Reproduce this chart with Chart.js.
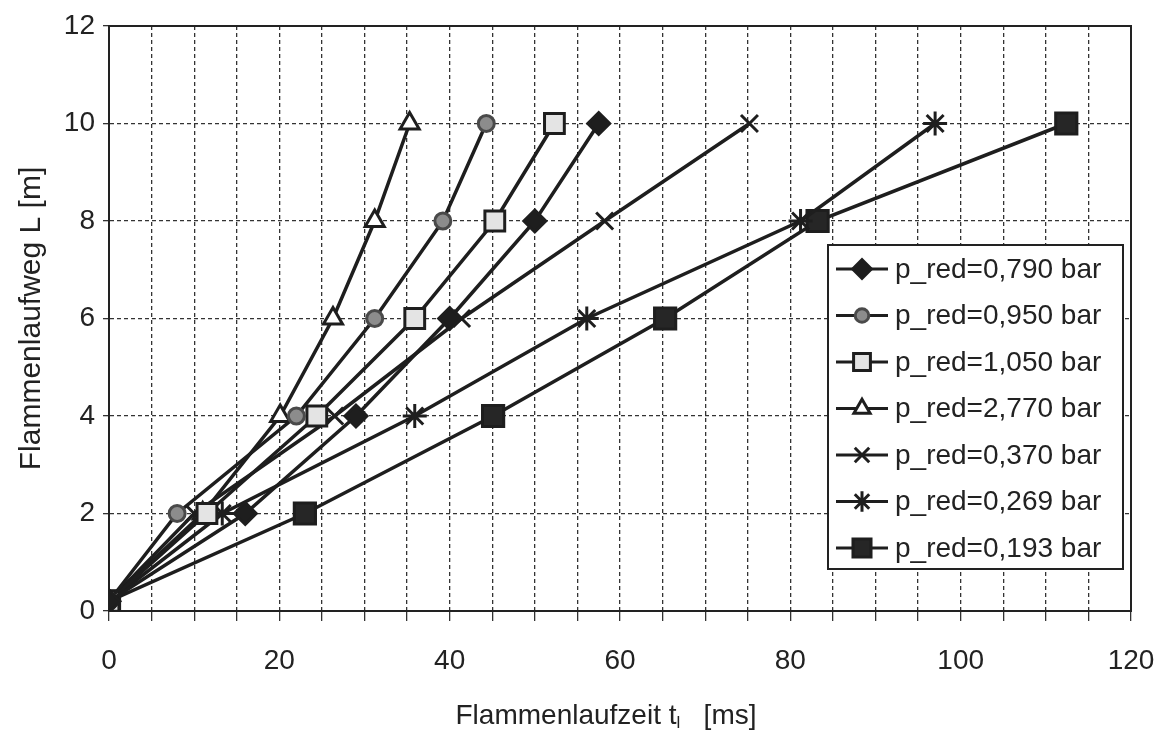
<!DOCTYPE html>
<html>
<head>
<meta charset="utf-8">
<script src="https://cdn.jsdelivr.net/npm/chart.js@4"></script>
<style>
  html, body { margin: 0; padding: 0; background: #fff; }
  #wrap { width: 1159px; height: 731px; }
</style>
</head>
<body>
<div id="wrap"><canvas id="chartFlamme" width="1159" height="731"></canvas></div>
<script>
// Flammenlaufweg L [m] (gleich fuer alle Messreihen)
const wegL = [0.2, 2, 4, 6, 8, 10];

// Flammenlaufzeit [ms] je Messreihe
const zeit0790 = [0, 16, 29, 40, 50, 57.5];
const zeit0950 = [0, 8, 22, 31.2, 39.2, 44.3];
const zeit1050 = [0, 11.5, 24.4, 35.9, 45.3, 52.3];
const zeit2770 = [0, 11, 20.1, 26.3, 31.2, 35.3];
const zeit0370 = [0, 10, 26.5, 41.4, 58.2, 75.2];
const zeit0269 = [0, 13.3, 35.9, 56.1, 81.2, 97.0];
const zeit0193 = [0, 23, 45.1, 65.3, 83.2, 112.4];

const legendenText = [
    "p_red=0,790 bar", "p_red=0,950 bar", "p_red=1,050 bar", "p_red=2,770 bar",
    "p_red=0,370 bar", "p_red=0,269 bar", "p_red=0,193 bar"
];

const xTicks = [0, 20, 40, 60, 80, 100, 120];
const yTicks = [0, 2, 4, 6, 8, 10, 12];

const FONT = "'Liberation Sans', Arial, sans-serif";

function punkte(zeiten) {
    return zeiten.map((t, i) => ({ x: t, y: wegL[i] }));
}

function reihe(idx, zeiten, stil, radius, fill, border) {
    return {
        label: legendenText[idx],
        data: punkte(zeiten),
        borderColor: "#1e1e1e",
        borderWidth: 3.5,
        pointStyle: stil,
        pointRadius: radius,
        pointHoverRadius: radius,
        pointBackgroundColor: fill,
        pointBorderColor: border,
        pointBorderWidth: 3,
        tension: 0
    };
}

/* Rahmen um die Zeichenflaeche */
const rahmenPlugin = {
    id: "rahmen",
    beforeDatasetsDraw(chart) {
        const a = chart.chartArea, ctx = chart.ctx;
        ctx.save();
        ctx.strokeStyle = "#222";
        ctx.lineWidth = 2;
        ctx.strokeRect(a.left, a.top, a.right - a.left, a.bottom - a.top);
        ctx.restore();
    }
};

/* Achsentitel mit Index t_l */
const titelPlugin = {
    id: "titel",
    afterDraw(chart) {
        const ctx = chart.ctx, a = chart.chartArea;
        ctx.save();
        ctx.fillStyle = "#222";
        ctx.textBaseline = "alphabetic";
        const teil1 = "Flammenlaufzeit t", teil2 = "l", teil3 = "   [ms]";
        ctx.font = "28px " + FONT;
        const w1 = ctx.measureText(teil1).width;
        const w3 = ctx.measureText(teil3).width;
        ctx.font = "17px " + FONT;
        const w2 = ctx.measureText(teil2).width;
        let x = (a.left + a.right) / 2 - (w1 + w2 + w3) / 2 - 14;
        const y = 724;
        ctx.font = "28px " + FONT;
        ctx.fillText(teil1, x, y);
        x += w1;
        ctx.font = "17px " + FONT;
        ctx.fillText(teil2, x, y + 4);
        x += w2;
        ctx.font = "28px " + FONT;
        ctx.fillText(teil3, x, y);

        ctx.translate(40, (a.top + a.bottom) / 2);
        ctx.rotate(-Math.PI / 2);
        ctx.textAlign = "center";
        ctx.font = "30px " + FONT;
        ctx.fillText("Flammenlaufweg L [m]", 0, 0);
        ctx.restore();
    }
};

/* Legende innerhalb der Zeichenflaeche */
const legendePlugin = {
    id: "legendeInnen",
    afterDraw(chart) {
        const ctx = chart.ctx;
        const box = { x: 828, y: 245, w: 295, h: 324 };
        ctx.save();
        ctx.fillStyle = "#fff";
        ctx.fillRect(box.x, box.y, box.w, box.h);
        ctx.strokeStyle = "#222";
        ctx.lineWidth = 2;
        ctx.strokeRect(box.x, box.y, box.w, box.h);
        chart.data.datasets.forEach((ds, i) => {
            const y = 269 + i * 46.5;
            ctx.strokeStyle = "#1e1e1e";
            ctx.lineWidth = 3;
            ctx.beginPath();
            ctx.moveTo(836, y);
            ctx.lineTo(888, y);
            ctx.stroke();
            if (Chart.helpers && Chart.helpers.drawPoint) {
                ctx.fillStyle = ds.pointBackgroundColor;
                ctx.strokeStyle = ds.pointBorderColor;
                ctx.lineWidth = 3;
                Chart.helpers.drawPoint(ctx, {
                    pointStyle: ds.pointStyle,
                    rotation: 0,
                    radius: ds.pointRadius * 0.85,
                    borderWidth: 3
                }, 862, y);
            }
            ctx.fillStyle = "#222";
            ctx.font = "28px " + FONT;
            ctx.textBaseline = "middle";
            ctx.textAlign = "left";
            ctx.fillText(ds.label, 895, y + 1);
        });
        ctx.restore();
    }
};

document.addEventListener("DOMContentLoaded", () => {
    const ctx = document.getElementById("chartFlamme");

    new Chart(ctx, {
        type: "line",
        data: {
            datasets: [
                reihe(0, zeit0790, "rectRot", 11, "#1e1e1e", "#1e1e1e"),
                reihe(1, zeit0950, "circle", 8, "#8c8c8c", "#4a4a4a"),
                reihe(2, zeit1050, "rect", 14, "#e4e4e4", "#1e1e1e"),
                reihe(3, zeit2770, "triangle", 11, "#ffffff", "#1e1e1e"),
                reihe(4, zeit0370, "crossRot", 12, "#1e1e1e", "#1e1e1e"),
                reihe(5, zeit0269, "star", 12, "#1e1e1e", "#1e1e1e"),
                reihe(6, zeit0193, "rect", 15, "#262626", "#1e1e1e")
            ]
        },
        options: {
            responsive: false,
            animation: false,
            layout: { padding: { left: 0, top: 26, right: 28, bottom: 0 } },
            plugins: {
                legend: { display: false },
                tooltip: { enabled: false }
            },
            scales: {
                x: {
                    type: "linear",
                    min: xTicks[0],
                    max: xTicks[xTicks.length - 1],
                    afterFit(scale) {
                        scale.height = 120;
                        scale.paddingLeft = 0;
                        scale.paddingRight = 0;
                    },
                    ticks: {
                        stepSize: 5,
                        autoSkip: false,
                        maxRotation: 0,
                        padding: 23,
                        color: "#222",
                        font: { family: FONT, size: 28 },
                        callback: v => (xTicks.includes(v) ? String(v) : "")
                    },
                    grid: {
                        color: "#333",
                        lineWidth: 1.3,
                        tickLength: 10,
                        drawTicks: true
                    },
                    border: { display: true, color: "#222", width: 2, dash: [4, 3] }
                },
                y: {
                    type: "linear",
                    min: yTicks[0],
                    max: yTicks[yTicks.length - 1],
                    afterFit(scale) {
                        scale.width = 109;
                        scale.paddingTop = 0;
                        scale.paddingBottom = 0;
                    },
                    ticks: {
                        stepSize: 2,
                        padding: 8,
                        color: "#222",
                        font: { family: FONT, size: 28 },
                        callback: v => (yTicks.includes(v) ? String(v) : "")
                    },
                    grid: {
                        color: "#333",
                        lineWidth: 1.3,
                        tickLength: 6
                    },
                    border: { display: true, color: "#222", width: 2, dash: [4, 3] }
                }
            }
        },
        plugins: [rahmenPlugin, titelPlugin, legendePlugin]
    });
});
</script>
</body>
</html>
